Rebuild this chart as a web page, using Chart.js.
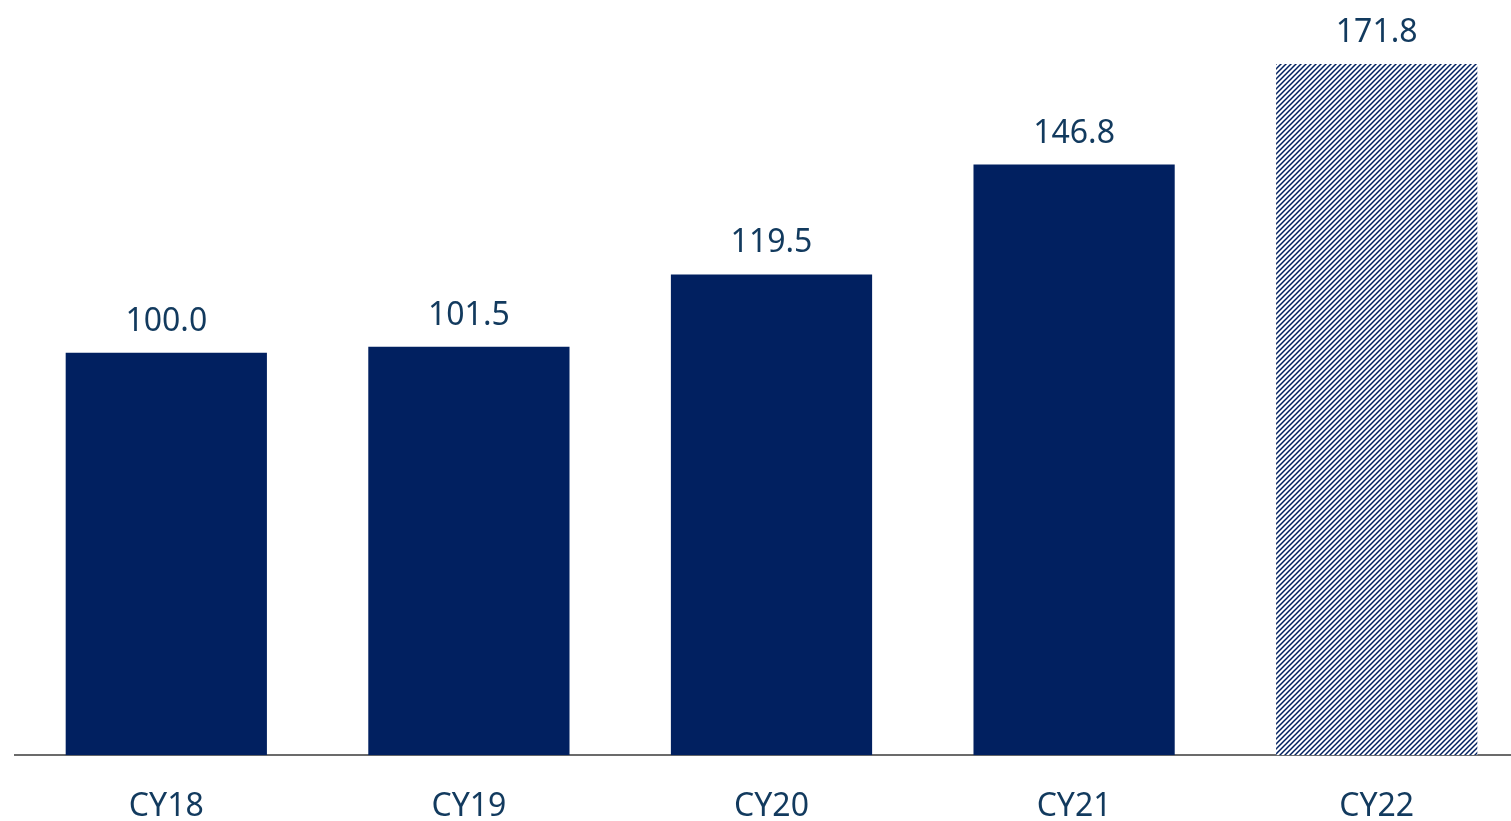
<!DOCTYPE html>
<html>
<head>
<meta charset="utf-8">
<title>CY index</title>
<script src="https://cdn.jsdelivr.net/npm/chart.js@4/dist/chart.umd.min.js"></script>
<style>
  html, body { margin: 0; padding: 0; background: #ffffff; overflow: hidden; }
  #wrap { width: 1528px; height: 858px; }
</style>
</head>
<body>
<div id="wrap"><canvas id="bar-chart"></canvas></div>
<script>
/*global document, window, Chart*/
var year_list = ["CY18", "CY19", "CY20", "CY21", "CY22"];
var value_list = [100.0, 101.5, 119.5, 146.8, 171.8];
var forecast_list = [false, false, false, false, true];

(function (document, Chart) {
  "use strict";

  var NAVY = "#012060",
    TEXT = "#123a5e";

  // diagonal hatch for the forecast year
  function makeHatch() {
    var c = document.createElement("canvas"),
      ctx = c.getContext("2d");
    c.width = 5;
    c.height = 5;
    ctx.fillStyle = "#ffffff";
    ctx.fillRect(0, 0, 5, 5);
    ctx.strokeStyle = NAVY;
    ctx.lineWidth = 1.5;
    ctx.beginPath();
    ctx.moveTo(-1, 6);
    ctx.lineTo(6, -1);
    ctx.moveTo(-1, 1);
    ctx.lineTo(1, -1);
    ctx.moveTo(4, 6);
    ctx.lineTo(6, 4);
    ctx.stroke();
    return ctx.createPattern(c, "repeat");
  }

  // value labels over each bar
  var valueLabels = {
    id: "valueLabels",
    afterDatasetsDraw: function (chart) {
      var ctx = chart.ctx,
        meta = chart.getDatasetMeta(0),
        i;
      ctx.save();
      ctx.font = "32px 'Noto Sans'";
      ctx.fillStyle = TEXT;
      ctx.textAlign = "center";
      ctx.textBaseline = "alphabetic";
      for (i = 0; i < meta.data.length; i += 1) {
        ctx.fillText(value_list[i].toFixed(1), meta.data[i].x, meta.data[i].y - 22);
      }
      ctx.restore();
    }
  };

  var hatch = makeHatch();

  new Chart(document.getElementById("bar-chart"), {
    type: "bar",
    data: {
      labels: year_list,
      datasets: [{
        data: value_list,
        backgroundColor: forecast_list.map(function (f) {
          return f ? hatch : NAVY;
        }),
        borderWidth: 0,
        barPercentage: 0.665,
        categoryPercentage: 1
      }]
    },
    options: {
      responsive: true,
      maintainAspectRatio: false,
      animation: false,
      layout: {
        padding: {left: 15, right: 0, top: 31, bottom: 0}
      },
      plugins: {
        legend: {display: false},
        tooltip: {enabled: false}
      },
      scales: {
        x: {
          grid: {display: false, drawTicks: false},
          border: {display: true, color: "#6b6b6b", width: 2},
          ticks: {
            color: TEXT,
            padding: 33,
            font: {family: "'Noto Sans'", size: 32, lineHeight: 1.15}
          }
        },
        y: {
          display: false,
          min: 0,
          max: 180
        }
      }
    },
    plugins: [valueLabels]
  });
}(document, Chart));
</script>
</body>
</html>
